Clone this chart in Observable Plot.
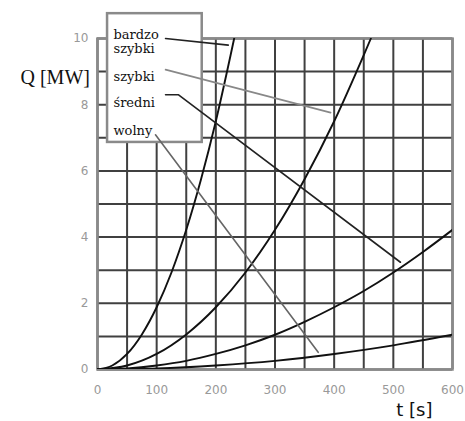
<!DOCTYPE html>
<html>
<head>
<meta charset="utf-8">
<script src="https://cdn.jsdelivr.net/npm/d3@7"></script>
<script src="https://cdn.jsdelivr.net/npm/@observablehq/plot@0.6"></script>
<style>
  html, body { margin: 0; padding: 0; background: #fff; }
  #chart { width: 465px; height: 421px; }
  svg { display: block; }
</style>
</head>
<body>
<div id="chart"></div>
<script>
// ---- data ----
const ultraT  = [0, 25, 50, 75, 100, 125, 150, 175, 200, 225, 231];
const ultraQ  = [0, 0.12, 0.47, 1.06, 1.88, 2.93, 4.22, 5.75, 7.50, 9.50, 10.0];
const fastT   = [0, 50, 100, 150, 200, 250, 300, 350, 400, 450, 462];
const fastQ   = [0, 0.12, 0.47, 1.06, 1.88, 2.93, 4.22, 5.75, 7.50, 9.50, 10.0];
const mediumT = [0, 50, 100, 150, 200, 250, 300, 350, 400, 450, 500, 550, 600];
const mediumQ = [0, 0.03, 0.12, 0.26, 0.47, 0.73, 1.05, 1.44, 1.88, 2.37, 2.93, 3.55, 4.22];
const slowT   = [0, 100, 200, 300, 400, 500, 600];
const slowQ   = [0, 0.03, 0.12, 0.26, 0.47, 0.73, 1.05];

const xTicks = [0, 100, 200, 300, 400, 500, 600];
const yTicks = [0, 2, 4, 6, 8, 10];
const gridT  = [0, 50, 100, 150, 200, 250, 300, 350, 400, 450, 500, 550, 600];
const gridQ  = [0, 1, 2, 3, 4, 5, 6, 7, 8, 9, 10];

// legend labels (polish), their anchor (t, Q) and leader-line paths
const legendText = ["bardzo", "szybki", "szybki", "średni", "wolny"];
const legendT    = [27, 27, 27, 27, 27];
const legendQ    = [10.1, 9.68, 8.85, 8.05, 7.22];
const leaderT    = [[115, 221], [115, 394], [115, 137, 512], [98, 373]];
const leaderQ    = [[10.0, 9.8], [9.06, 7.76], [8.3, 8.3, 3.24], [7.09, 0.52]];
const leaderColor = ["#222", "#888", "#222", "#666"];
const legendBoxT = [17, 177];
const legendBoxQ = [6.86, 10.75];

// ---- build tables ----
const curves = [
  ...ultraT.map((t, i) => ({name: "ultra", t, q: ultraQ[i]})),
  ...fastT.map((t, i) => ({name: "fast", t, q: fastQ[i]})),
  ...mediumT.map((t, i) => ({name: "medium", t, q: mediumQ[i]})),
  ...slowT.map((t, i) => ({name: "slow", t, q: slowQ[i]}))
];
const leaders = leaderT.flatMap((ts, k) => ts.map((t, i) => ({k, t, q: leaderQ[k][i], c: leaderColor[k]})));
const labels = legendText.map((s, i) => ({s, t: legendT[i], q: legendQ[i]}));

const chart = Plot.plot({
  width: 465,
  height: 421,
  marginLeft: 97,
  marginRight: 13,
  marginTop: 38,
  marginBottom: 52,
  x: {domain: [0, 600]},
  y: {domain: [0, 10]},
  style: {fontFamily: "'DejaVu Sans', sans-serif", background: "#fff"},
  marks: [
    Plot.ruleX(gridT, {x: d => d, stroke: "#404040", strokeWidth: 2}),
    Plot.ruleY(gridQ, {y: d => d, stroke: "#404040", strokeWidth: 2}),
    Plot.frame({stroke: "#8a8a8a", strokeWidth: 2.5}),
    Plot.axisX(xTicks, {tickSize: 0, tickPadding: 16, fontSize: 12, fill: "#999", label: null}),
    Plot.axisY(yTicks, {tickSize: 0, tickPadding: 9, fontSize: 12, fill: "#999", label: null}),
    Plot.line(curves, {x: "t", y: "q", z: "name", stroke: "#111", strokeWidth: 1.9, curve: "monotone-x", clip: true}),
    Plot.rect([0], {x1: () => legendBoxT[0], x2: () => legendBoxT[1], y1: () => legendBoxQ[0], y2: () => legendBoxQ[1], fill: "#fff", stroke: "#8a8a8a", strokeWidth: 2.5}),
    Plot.line(leaders, {x: "t", y: "q", z: "k", stroke: "c", strokeWidth: 1.6}),
    Plot.text(labels, {x: "t", y: "q", text: "s", textAnchor: "start", fontFamily: "'DejaVu Serif', serif", fontSize: 13, fill: "#111"}),
    Plot.text(["Q [MW]"], {frameAnchor: "top-left", dx: -77, dy: 31, textAnchor: "start", fontFamily: "'Liberation Serif', serif", fontSize: 20, fill: "#111"}),
    Plot.text(["t [s]"], {frameAnchor: "bottom-right", dx: -20, dy: 46, textAnchor: "end", fontFamily: "'DejaVu Sans', sans-serif", fontSize: 18, fill: "#111"})
  ]
});
document.getElementById("chart").appendChild(chart);
</script>
</body>
</html>
